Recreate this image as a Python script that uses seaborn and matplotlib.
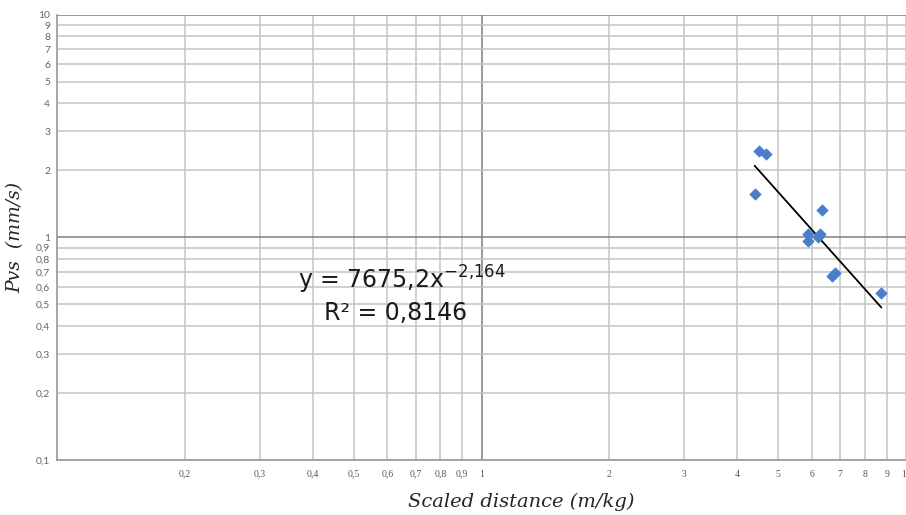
import numpy as np
import pandas as pd
import seaborn as sns
import matplotlib.pyplot as plt
from matplotlib.ticker import FixedLocator, FixedFormatter, NullLocator

# values
scaled_distance = [4.50, 4.69, 4.40, 6.34, 5.87, 5.87, 6.27, 6.20, 6.70, 6.82, 8.75]
pvs = [2.45, 2.38, 1.56, 1.33, 1.035, 0.966, 1.035, 1.00, 0.67, 0.69, 0.56]

x_ticks = [0.1, 0.2, 0.3, 0.4, 0.5, 0.6, 0.7, 0.8, 0.9, 1, 2, 3, 4, 5, 6, 7, 8, 9, 10]
x_labels = ["", "0,2", "0,3", "0,4", "0,5", "0,6", "0,7", "0,8", "0,9", "1",
            "2", "3", "4", "5", "6", "7", "8", "9", "10"]
y_ticks = x_ticks
y_labels = ["0,1", "0,2", "0,3", "0,4", "0,5", "0,6", "0,7", "0,8", "0,9", "1",
            "2", "3", "4", "5", "6", "7", "8", "9", "10"]

eq_text = "y = 7675,2x$^{\\mathrm{-2{,}164}}$"
r2_text = "R² = 0,8146"

sns.set_style("white")
plt.rcParams['font.family'] = ['DejaVu Sans']
plt.rcParams['mathtext.fontset'] = 'custom'
plt.rcParams['mathtext.rm'] = 'DejaVu Sans'

df = pd.DataFrame({"x": scaled_distance, "y": pvs})

# power fit in log space, drawn between the extreme points
coef = np.polyfit(np.log10(df["x"]), np.log10(df["y"]), 1)
fit_x = np.array([df["x"].min(), df["x"].max()])
fit = pd.DataFrame({"x": fit_x, "y": 10 ** np.polyval(coef, np.log10(fit_x))})

fig = plt.figure(figsize=(9.06, 5.15), dpi=100)
ax = fig.add_axes([0.063, 0.107, 0.937, 0.864])

ax.set_xscale("log")
ax.set_yscale("log")
ax.set_xlim(0.1, 10)
ax.set_ylim(0.1, 10)

# grid
for t in x_ticks:
    ax.axvline(t, color="#7f7f7f" if t == 1 else "#c4c4c4", lw=1.1, zorder=0)
for t in y_ticks:
    ax.axhline(t, color="#7f7f7f" if t in (1, 10) else "#c4c4c4", lw=1.1, zorder=0)

sns.lineplot(data=fit, x="x", y="y", color="black", lw=1.3, ax=ax, zorder=3)
sns.scatterplot(data=df, x="x", y="y", marker="D", s=34, color="#4a7ec8",
                edgecolor="#4a7ec8", ax=ax, zorder=4)

ax.xaxis.set_major_locator(FixedLocator(x_ticks))
ax.xaxis.set_major_formatter(FixedFormatter(x_labels))
ax.xaxis.set_minor_locator(NullLocator())
ax.yaxis.set_major_locator(FixedLocator(y_ticks))
ax.yaxis.set_major_formatter(FixedFormatter(y_labels))
ax.yaxis.set_minor_locator(NullLocator())

ax.tick_params(axis="x", length=0, pad=7, labelsize=7, labelcolor="#555555")
ax.tick_params(axis="y", length=3, color="#999999", pad=2, labelsize=7.5, labelcolor="#666666")
for lab in ax.get_xticklabels():
    lab.set_family("Liberation Serif")
for lab in ax.get_yticklabels():
    lab.set_family("Lato")

for side in ["top", "right"]:
    ax.spines[side].set_visible(False)
for side in ["left", "bottom"]:
    ax.spines[side].set_color("#999999")
    ax.spines[side].set_linewidth(1.2)

ax.set_xlabel("Scaled distance (m/kg)", family="DejaVu Serif", style="italic",
              fontsize=14, labelpad=10, x=0.547)
ax.set_ylabel("Pvs  (mm/s)", family="DejaVu Serif", style="italic",
              fontsize=13.5, labelpad=8)

ax.text(0.284, 0.404, eq_text, transform=ax.transAxes, fontsize=17,
        va="center", ha="left", color="#1a1a1a")
ax.text(0.315, 0.33, r2_text, transform=ax.transAxes, fontsize=17,
        va="center", ha="left", color="#1a1a1a")

fig.savefig("out.png", dpi=100)
